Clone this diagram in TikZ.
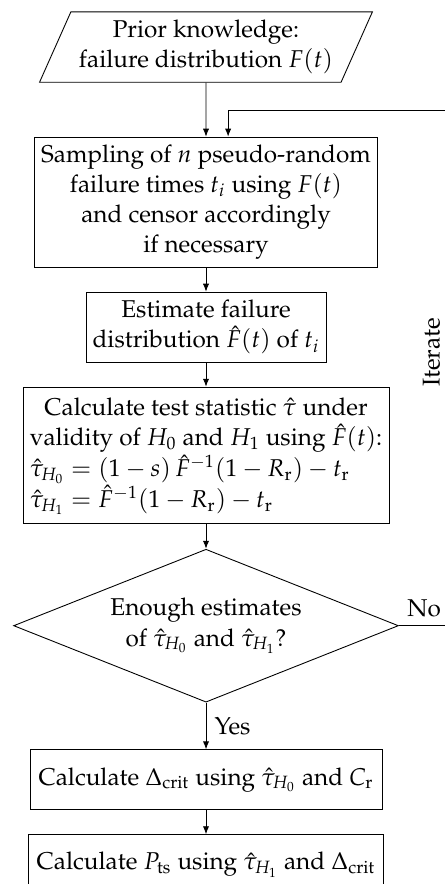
\documentclass[tikz,border=0pt,11pt]{standalone}
\usepackage[T1]{fontenc}
\usepackage{mathpazo}
\usetikzlibrary{arrows.meta,positioning,shapes.geometric}

\begin{document}
\begin{tikzpicture}[
    node distance=0.38cm,
    box/.style={draw, rectangle, align=center, inner sep=3pt},
    io/.style={draw, trapezium, trapezium left angle=66, trapezium right angle=114,
                trapezium stretches=true, align=center, minimum width=5.05cm, minimum height=1.11cm},
    decision/.style={draw, diamond, aspect=2.5, align=center, inner sep=1pt,
                     minimum width=6.09cm, minimum height=2.42cm},
    arrow/.style={-{Latex[length=3.6pt,width=2.8pt]}}
]
    \path[use as bounding box, clip] (0,0) rectangle (7.04,-13.99);

    \node[io] (prior) at (3.26,-0.744) {Prior knowledge:\\failure distribution $F(t)$};
    \node[box, below=0.855cm of prior, minimum width=5.41cm, minimum height=2.06cm] (sample)
        {Sampling of $n$ pseudo-random\\failure times $t_i$ using $F(t)$\\and censor accordingly\\if necessary};
    \node[box, below=of sample, minimum width=3.8cm, minimum height=1.11cm] (estimate)
        {Estimate failure\\distribution $\hat{F}(t)$ of $t_i$};
    \node[box, below=of estimate, minimum width=5.79cm, minimum height=2.14cm] (calc)
        {\begin{tabular}{@{}l@{}}
         \multicolumn{1}{@{}c@{}}{Calculate test statistic $\hat{\tau}$ under}\\
         validity of $H_0$ and $H_1$ using $\hat{F}(t)$:\\
         $\hat{\tau}_{H_0} = (1-s)\,\hat{F}^{-1}(1-R_\mathrm{r}) - t_\mathrm{r}$\\
         $\hat{\tau}_{H_1} = \hat{F}^{-1}(1-R_\mathrm{r}) - t_\mathrm{r}$
         \end{tabular}};
    \node[decision, below=0.4cm of calc] (decide)
        {Enough estimates\\of $\hat{\tau}_{H_0}$ and $\hat{\tau}_{H_1}$?};
    \node[box, below=0.74cm of decide, minimum width=5.57cm, minimum height=0.95cm] (delta)
        {Calculate $\Delta_\mathrm{crit}$ using $\hat{\tau}_{H_0}$ and $C_\mathrm{r}$};
    \node[box, below=of delta, minimum width=5.62cm, minimum height=0.95cm] (pts)
        {Calculate $P_\mathrm{ts}$ using $\hat{\tau}_{H_1}$ and $\Delta_\mathrm{crit}$};

    \coordinate (loop) at (7.1,-1.74);

    \draw[arrow] (prior) -- (sample);
    \draw[arrow] (sample) -- (estimate);
    \draw[arrow] (estimate) -- (calc);
    \draw[arrow] (calc) -- (decide);
    \draw[arrow] (decide) -- node[right]{Yes} (delta);
    \draw[arrow] (delta) -- (pts);
    \draw[arrow] (decide.east) -- node[above right, pos=0]{No} (decide.east -| loop)
        -- node[rotate=90, anchor=south, pos=0.53]{Iterate} (loop)
        -| ([xshift=0.35cm]sample.north);
\end{tikzpicture}
\end{document}
